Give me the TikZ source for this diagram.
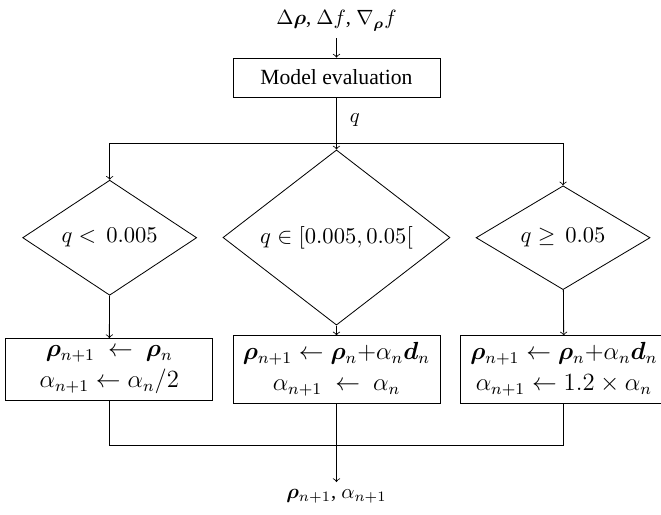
\documentclass[tikz,border=0pt]{standalone}
\usepackage{amsmath,amssymb,bm}
\usepackage[no-math]{fontspec}
\setmainfont{Liberation Serif}
\usepackage{tikz}
\usetikzlibrary{positioning, shapes.geometric}
\newcommand{\rhob}{\bm{\rho}}
\newcommand{\db}{\bm{d}}

\begin{document}
\begin{tikzpicture}[
  x=1pt, y=1pt,
  box/.style={draw, align=center, minimum width=100.4pt, line width=0.4pt,
              font=\fontsize{12}{15}\selectfont},
  decision/.style={draw, diamond, inner sep=0pt, minimum width=84.4pt,
                   minimum height=43.2pt, line width=0.4pt,
                   font=\fontsize{11}{13}\selectfont},
  bigdecision/.style={decision, minimum width=110.1pt, minimum height=58.7pt},
  arr/.style={->, line width=0.4pt}
]
\useasboundingbox (-163.2,0) rectangle (157.4,249.3);

\node[anchor=base] (in) at (0,237.2) {$\Delta\rhob$, $\Delta f$, $\nabla_{\rhob} f$};
\node[draw, minimum width=100.4pt, minimum height=18.9pt,
      font=\fontsize{10.5}{12}\selectfont] (eval) at (0,211.7) {Model evaluation};
\coordinate (split) at (0,179.9);

\node[decision]    (d1) at (-110.0,134.0) {$q <\, 0.005$};
\node[bigdecision] (d2) at (0,134.1)      {$q \in [0.005, 0.05[$};
\node[decision]    (d3) at (109.9,134.0)  {$q \geq\, 0.05$};

\node[box] (b1) at (-110.2,70.1) {$\rhob_{n+1} \ \leftarrow\ \rhob_n$\\$\alpha_{n+1} \leftarrow \alpha_n/2$};
\node[box] (b2) at (0,70.1)      {$\rhob_{n+1} \leftarrow \rhob_n{+}\alpha_n\db_n$\\$\alpha_{n+1} \ \leftarrow\ \alpha_n$};
\node[box] (b3) at (110.3,70.1)  {$\rhob_{n+1} \leftarrow \rhob_n{+}\alpha_n\db_n$\\$\alpha_{n+1} \leftarrow 1.2 \times \alpha_n$};

\coordinate (join) at (0,33.5);
\node[anchor=north] (out) at (0,15.5) {$\rhob_{n+1}$, $\alpha_{n+1}$};

\draw[arr] (in) -- (eval);
\draw (eval) -- node[right=3pt] {$q$} (split);
\draw[arr] (split) -- (d2);
\draw[arr] (split) -| (d1);
\draw[arr] (split) -| (d3);
\draw[arr] (d1) -- (b1);
\draw[arr] (d2) -- (b2);
\draw[arr] (d3) -- (b3);
\draw (b1) |- (join);
\draw (b3) |- (join);
\draw (b2) -- (join);
\draw[arr] (join) -- (out);
\end{tikzpicture}
\end{document}
